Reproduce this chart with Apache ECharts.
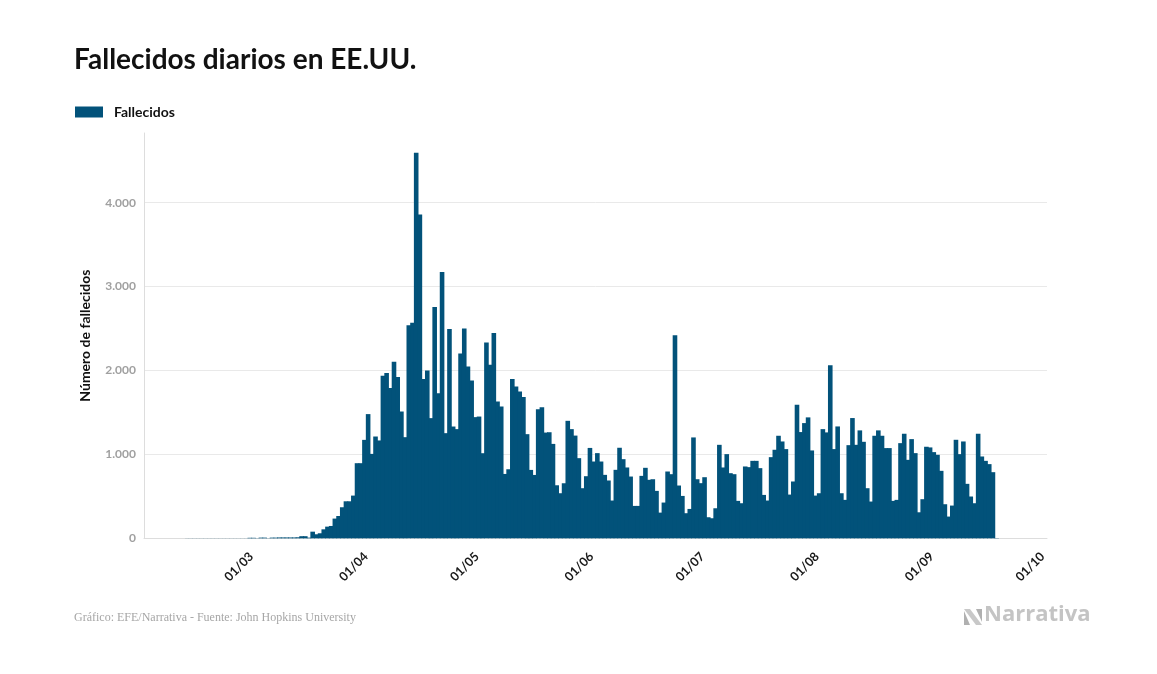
<!DOCTYPE html>
<html>
<head>
<meta charset="utf-8">
<script src="https://cdn.jsdelivr.net/npm/echarts@6/dist/echarts.min.js"></script>
<style>
  html, body { margin: 0; padding: 0; background: #ffffff; }
  #chart { width: 1157px; height: 674px; }
</style>
</head>
<body>
<div id="chart"></div>
<script>
// ---- Data ----
const titleText = 'Fallecidos diarios en EE.UU.';
const seriesName = 'Fallecidos';
const yAxisName = 'Número de fallecidos';
const sourceText = 'Gráfico: EFE/Narrativa - Fuente: John Hopkins University';
const firstDay = '2020-02-12';           // date of the first value below (one value per day)
const axisStart = '2020-02-01';
const axisEnd = '2020-10-01';
const yTicks = [0, 1000, 2000, 3000, 4000];
const deaths = [
  1,1,1,1,1,1,1,1,1,1,1,1,1,1,1,1,1,
  6,6,2,8,8,2,8,8,10,10,10,10,10,12,25,25,8,
  79,48,60,107,139,147,235,266,370,441,441,509,895,895,1173,1480,1006,1213,1166,1937,
  1969,1790,2104,1921,1511,1205,2538,2570,4594,3858,1897,2000,1432,2756,1730,3174,1253,2494,
  1332,1301,2203,2501,2048,1881,1444,1451,1014,2334,2068,2446,1630,1570,767,823,1897,1809,
  1750,1683,1241,815,755,1539,1563,1260,1264,1125,632,537,656,1400,1301,1224,955,597,
  740,1077,915,1015,915,756,689,450,816,1079,943,844,736,386,386,744,840,697,704,565,
  306,426,796,764,2420,629,505,299,350,1202,704,657,728,251,239,358,1114,844,1003,776,
  764,446,418,856,848,923,923,836,517,450,967,1055,1222,1154,1063,521,677,1592,1266,1373,
  1441,1047,509,537,1301,1262,2062,1063,1333,537,458,1110,1433,1114,1286,1150,597,438,1222,1286,
  1222,1075,1075,446,458,1134,1246,935,1182,1015,310,466,1091,1083,1027,995,804,406,259,390,
  1174,1003,1154,649,498,418,1246,975,923,884,788,3
];

// ---- Build [date, value] pairs ----
const DAY = 86400000;
const t0 = Date.parse(firstDay + 'T00:00:00Z');
const points = deaths.map((v, i) => [t0 + i * DAY, v]);
const xMin = Date.parse(axisStart + 'T00:00:00Z');
const xMax = Date.parse(axisEnd + 'T00:00:00Z');

const BAR = '#02527a';
const FONT = 'Lato, "Noto Sans", sans-serif';
const yMax = 4830;
const pad2 = n => (n < 10 ? '0' : '') + n;

const chart = echarts.init(document.getElementById('chart'), null, { renderer: 'canvas' });
chart.setOption({
  useUTC: true,
  animation: false,
  backgroundColor: '#ffffff',
  textStyle: { fontFamily: FONT },
  title: {
    text: titleText,
    left: 69, top: 41,
    textStyle: { fontFamily: FONT, fontWeight: 'bold', fontSize: 28, color: '#111111' }
  },
  legend: {
    data: [seriesName],
    left: 70, top: 100,
    icon: 'rect',
    itemWidth: 28, itemHeight: 11, itemGap: 10,
    textStyle: { fontFamily: FONT, fontWeight: 'bold', fontSize: 14, color: '#111111', padding: [0, 0, 0, 6] }
  },
  grid: { left: 144, right: 110, top: 133, bottom: 135.7, containLabel: false },
  xAxis: {
    type: 'time',
    min: xMin,
    max: xMax,
    splitNumber: 8,
    axisLine: { show: true, lineStyle: { color: '#dddddd', width: 1 } },
    axisTick: { show: false },
    splitLine: { show: false },
    axisLabel: {
      rotate: 45,
      margin: 14,
      hideOverlap: false,
      padding: [0, 3, 0, 0],
      fontFamily: FONT, fontWeight: 'bold', fontSize: 12.5, color: '#1a1a1a',
      formatter: function (val) {
        const d = new Date(val);
        if (val <= xMin) return '';
        return pad2(d.getUTCDate()) + '/' + pad2(d.getUTCMonth() + 1);
      }
    }
  },
  yAxis: {
    type: 'value',
    min: 0, max: yMax, interval: 1000,
    name: yAxisName,
    nameLocation: 'middle',
    nameRotate: 90,
    nameGap: 52,
    nameTextStyle: { fontFamily: FONT, fontWeight: 'bold', fontSize: 14, color: '#111111' },
    axisLine: { show: true, lineStyle: { color: '#dddddd', width: 1 } },
    axisTick: { show: false },
    splitLine: { show: true, lineStyle: { color: ['#e9e9e9','#e9e9e9','#e9e9e9','#e9e9e9','#e9e9e9','rgba(0,0,0,0)'], width: 1 } },
    axisLabel: {
      margin: 8,
      fontFamily: FONT, fontWeight: 'bold', fontSize: 12, color: '#a0a0a0',
      formatter: function (v) {
        if (yTicks.indexOf(v) < 0) return '';
        return v.toLocaleString('de-DE');
      }
    }
  },
  series: [{
    name: seriesName,
    type: 'bar',
    data: points,
    barWidth: 4.6,
    itemStyle: { color: BAR, borderWidth: 0, borderColor: BAR },
    emphasis: { disabled: true }
  }],
  graphic: [
    {
      type: 'text', left: 74, top: 612,
      style: { text: sourceText, font: '12px "Liberation Serif", serif', fill: '#a6a6a6' }
    },
    {
      type: 'polygon',
      shape: { points: [[964, 609], [970, 609], [982, 625], [976, 625]] },
      style: { fill: '#c8c8c8' }
    },
    {
      type: 'polygon',
      shape: { points: [[964, 611], [964, 625], [970, 625]] },
      style: { fill: '#b0b0b0' }
    },
    {
      type: 'polygon',
      shape: { points: [[976, 609], [982, 609], [982, 622]] },
      style: { fill: '#b0b0b0' }
    },
    {
      type: 'text', left: 984, top: 604,
      style: { text: 'Narrativa', font: 'bold 22px "Open Sans", sans-serif', fill: '#c4c4c4' }
    }
  ]
});
</script>
</body>
</html>
